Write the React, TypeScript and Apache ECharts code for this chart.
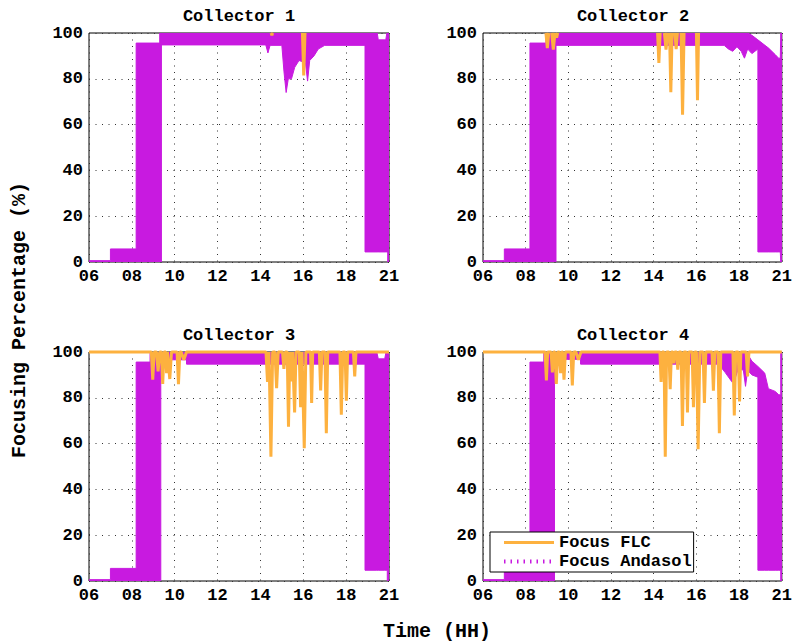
import React, { useEffect, useRef } from 'react';
import * as echarts from 'echarts';

const PURPLE = '#c81ae0';
const ORANGE = '#fdb13f';
const FONT = "'Liberation Mono', 'Courier New', monospace";

// x axis ticks (axis units) and their printed labels
const xTicks = [6, 8, 10, 12, 14, 16, 18, 20];
const xTickLabels = ['06', '08', '10', '12', '14', '16', '18', '21'];

const titles = ['Collector 1', 'Collector 2', 'Collector 3', 'Collector 4'];

// ---- Focus Andasol: band (low..high) the signal oscillates within ----
const c1X = [6, 7, 7, 8.2, 8.2, 9.3, 9.3, 9.38, 9.38, 14.25, 14.35, 14.45, 15.0, 15.1, 15.2, 15.3, 15.45, 15.6, 15.8, 16.1, 16.2, 16.3, 16.5, 16.7, 17.0, 18.88, 18.88, 19.45, 19.5, 19.85, 19.9, 19.94, 19.94, 20];
const c1Low = [0, 0, 0, 0, 0, 0, 0, 0, 94.8, 94.8, 91.3, 94.6, 94.6, 83, 74, 80, 80, 85, 88, 87, 79, 88, 90, 93, 94.6, 94.6, 4.4, 4.4, 4.4, 4.4, 4.4, 4.4, 0, 0];
const c1High = [0.6, 0.6, 5.7, 5.7, 95.6, 95.6, 100, 100, 100, 100, 100, 100, 100, 100, 100, 100, 100, 100, 100, 100, 100, 100, 100, 100, 100, 100, 100, 100, 97, 97, 100, 100, 100, 100];

const c2X = [6, 7, 7, 8.2, 8.2, 8.95, 8.95, 9.42, 9.42, 17.3, 17.5, 17.7, 17.9, 18.1, 18.25, 18.4, 18.6, 18.88, 18.88, 19.38, 19.7, 19.85, 19.93, 19.95, 20];
const c2Low = [0, 0, 0, 0, 0, 0, 0, 0, 94.6, 94.6, 93, 92, 94, 92, 89, 93, 91, 93, 4.4, 4.4, 4.4, 4.4, 4.4, 0, 0];
const c2High = [0.6, 0.6, 5.7, 5.7, 95.6, 95.6, 100, 100, 100, 100, 100, 100, 100, 100, 100, 100, 99, 97, 97, 93.4, 90.5, 89, 89, 100, 100];

const c3X = [6, 7, 7, 8.2, 8.2, 8.85, 8.85, 9.35, 9.35, 10.55, 10.55, 18.88, 18.88, 19.43, 19.5, 19.8, 19.86, 19.92, 19.92, 20];
const c3Low = [0, 0, 0, 0, 0, 0, 0, 0, 96.6, 96.6, 94.7, 94.7, 4.7, 4.7, 4.7, 4.7, 4.7, 4.7, 0, 0];
const c3High = [0.6, 0.6, 5.5, 5.5, 95.6, 95.6, 100, 100, 100, 100, 100, 100, 100, 100, 97, 97, 100, 100, 100, 100];

const c4X = [6, 7, 7, 8.2, 8.2, 8.85, 8.85, 9.35, 9.35, 10.57, 10.57, 17.04, 17.35, 17.66, 17.8, 17.97, 18.2, 18.3, 18.4, 18.6, 18.88, 18.88, 19.2, 19.37, 19.69, 19.86, 19.95, 19.95, 20];
const c4Low = [0, 0, 0, 0, 0, 0, 0, 0, 96.8, 96.8, 94.7, 94.7, 91, 87, 88, 93, 92, 85, 92, 90, 89, 4.7, 4.7, 4.7, 4.7, 4.7, 4.7, 0, 0];
const c4High = [0.6, 0.6, 5.5, 5.5, 95.6, 95.6, 100, 100, 100, 100, 100, 100, 100, 100, 100, 100, 100, 100, 99, 96, 93.7, 93.7, 90.8, 84, 82.8, 81.3, 81.3, 100, 100];

// ---- Focus FLC: dips below 100 as [start, end, minimum] ----
const c1Dips = [[14.5, 14.57, 99], [15.96, 16.08, 81.5]];
const c2Dips = [[8.95, 9.08, 93.4], [9.22, 9.37, 92.7], [9.4, 9.5, 98], [14.18, 14.3, 86.9], [14.5, 14.65, 92.7], [14.74, 14.86, 74.1], [14.99, 15.11, 93], [15.28, 15.42, 64.3], [16.0, 16.1, 70.6]];
const c3Dips = [[8.91, 9.04, 87.9], [9.15, 9.3, 91.5], [9.38, 9.5, 86.1], [9.58, 9.66, 90.8], [9.69, 9.85, 88.2], [10.11, 10.24, 86], [10.3, 10.55, 96.6], [14.26, 14.4, 86.9], [14.41, 14.57, 54.3], [14.68, 14.83, 84.2], [15.03, 15.16, 92.6], [15.25, 15.37, 67.4], [15.38, 15.5, 87.2], [15.53, 15.66, 73.6], [15.81, 15.94, 75.9], [15.97, 16.12, 58], [16.34, 16.44, 77.7], [16.75, 16.87, 83.2], [17.01, 17.14, 64.5], [17.71, 17.84, 72.6], [17.95, 18.07, 78.7], [18.34, 18.46, 89.3]];
const c4Dips = [[8.91, 9.03, 87.6], [9.19, 9.31, 91.1], [9.37, 9.5, 86], [9.58, 9.69, 90.8], [9.73, 9.86, 87.9], [10.12, 10.25, 85.4], [10.35, 10.59, 96.6], [14.29, 14.4, 86.9], [14.48, 14.6, 54.3], [14.71, 14.83, 83.8], [14.9, 14.98, 95], [15.07, 15.18, 92.3], [15.28, 15.41, 67.7], [15.52, 15.64, 73.6], [15.8, 15.92, 75.9], [16.0, 16.16, 57.5], [16.31, 16.44, 77.7], [16.73, 16.86, 83.1], [17.01, 17.14, 64.5], [17.71, 17.84, 72.3], [17.96, 18.08, 78.4], [18.33, 18.46, 89.3]];

const bandX = [c1X, c2X, c3X, c4X];
const bandLow = [c1Low, c2Low, c3Low, c4Low];
const bandHigh = [c1High, c2High, c3High, c4High];
const dips = [c1Dips, c2Dips, c3Dips, c4Dips];
const flcBaseline = [false, false, true, true]; // FLC line drawn along 100 between dips

const LAYOUT = [
  { left: 89, top: 33 },
  { left: 483, top: 33 },
  { left: 89, top: 352 },
  { left: 483, top: 352 },
];
const GW = 300;
const GH = 229;

function flcData(i: number) {
  const out: any[] = [];
  if (flcBaseline[i]) out.push([6, 100]);
  for (const [s, e, m] of dips[i]) {
    out.push([s, 100], [(s + e) / 2, m], [e, 100]);
    if (!flcBaseline[i]) out.push([e, '-']);
  }
  if (flcBaseline[i]) out.push([20, 100]);
  return out;
}

export default function App() {
  const ref = useRef<HTMLDivElement>(null);
  useEffect(() => {
    document.body.style.margin = '0';
    if (!ref.current) return;
    const chart = echarts.init(ref.current, undefined, { renderer: 'svg' });
    const grid: any[] = [];
    const xAxis: any[] = [];
    const yAxis: any[] = [];
    const series: any[] = [];
    const title: any[] = [];
    for (let i = 0; i < 4; i++) {
      const L = LAYOUT[i];
      grid.push({
        left: L.left, top: L.top, width: GW, height: GH,
        show: true, borderColor: '#000', borderWidth: 1, backgroundColor: '#fff',
      });
      title.push({
        text: titles[i], left: L.left + GW / 2, top: L.top - 25, textAlign: 'center', padding: 0,
        textStyle: { fontFamily: FONT, fontWeight: 'bold', fontSize: 17, color: '#000' },
      });
      xAxis.push({
        type: 'value', gridIndex: i, min: 6, max: 20, interval: 2,
        axisLine: { show: false }, axisTick: { show: false },
        axisLabel: {
          margin: 6, color: '#000', fontFamily: FONT, fontWeight: 'bold', fontSize: 17,
          formatter: (v: number) => { const k = xTicks.indexOf(v); return k >= 0 ? xTickLabels[k] : ''; },
        },
        splitLine: { show: true, lineStyle: { color: '#333', type: [1, 5.5], width: 1 } },
      });
      yAxis.push({
        type: 'value', gridIndex: i, min: 0, max: 100, interval: 20,
        axisLine: { show: false }, axisTick: { show: false },
        axisLabel: { margin: 6, color: '#000', fontFamily: FONT, fontWeight: 'bold', fontSize: 17 },
        splitLine: { show: true, lineStyle: { color: '#333', type: [1, 5.5], width: 1 } },
      });
      const xs = bandX[i];
      const lo = bandLow[i];
      const hi = bandHigh[i];
      series.push({
        name: 'Andasol band ' + (i + 1), type: 'custom', xAxisIndex: i, yAxisIndex: i,
        silent: true, clip: true,
        encode: { x: 0, y: [1, 2] },
        data: xs.map((x, k) => [x, lo[k], hi[k]]),
        renderItem: (params: any, api: any) => {
          if (params.dataIndex !== 0) return { type: 'group', children: [] };
          const pts: number[][] = [];
          for (let k = 0; k < xs.length; k++) pts.push(api.coord([xs[k], hi[k]]));
          for (let k = xs.length - 1; k >= 0; k--) pts.push(api.coord([xs[k], lo[k]]));
          return {
            type: 'polygon', shape: { points: pts },
            style: { fill: PURPLE, stroke: PURPLE, lineWidth: 1 },
          };
        },
      });
      // legend entry for the Andasol series (drawn as a dotted line)
      series.push({
        name: 'Focus Andasol', type: 'line', xAxisIndex: i, yAxisIndex: i,
        symbol: 'none', silent: true, color: PURPLE,
        lineStyle: { color: PURPLE, width: 4, type: [1.5, 5] },
        data: [],
      });
      series.push({
        name: 'Focus FLC', type: 'line', xAxisIndex: i, yAxisIndex: i,
        symbol: 'none', silent: true, clip: false, color: ORANGE,
        lineStyle: { color: ORANGE, width: 3 },
        data: flcData(i),
      });
    }
    chart.setOption({
      animation: false,
      backgroundColor: '#fff',
      title,
      grid, xAxis, yAxis, series,
      legend: {
        orient: 'vertical', left: 490, top: 532, selectedMode: false,
        backgroundColor: '#fff', borderColor: '#000', borderWidth: 1,
        padding: [2, 2, 2, 12], itemGap: 2, itemWidth: 50, itemHeight: 17,
        textStyle: { fontFamily: FONT, fontWeight: 'bold', fontSize: 17, color: '#000', lineHeight: 17 },
        data: [
          { name: 'Focus FLC', itemStyle: { opacity: 0 }, lineStyle: { color: ORANGE, width: 3, type: 'solid', opacity: 1 } },
          { name: 'Focus Andasol', itemStyle: { opacity: 0 }, lineStyle: { color: PURPLE, width: 4, type: [1.5, 5], opacity: 1 } },
        ],
      },
      graphic: [
        {
          type: 'text', x: 19, y: 320, rotation: Math.PI / 2,
          style: { text: 'Focusing Percentage (%)', font: `bold 20px ${FONT}`, fill: '#000', textAlign: 'center', textVerticalAlign: 'middle' },
        },
        {
          type: 'text', x: 437, y: 631,
          style: { text: 'Time (HH)', font: `bold 20px ${FONT}`, fill: '#000', textAlign: 'center', textVerticalAlign: 'middle' },
        },
      ],
    });
    return () => chart.dispose();
  }, []);
  return <div ref={ref} style={{ width: 795, height: 644 }} />;
}
